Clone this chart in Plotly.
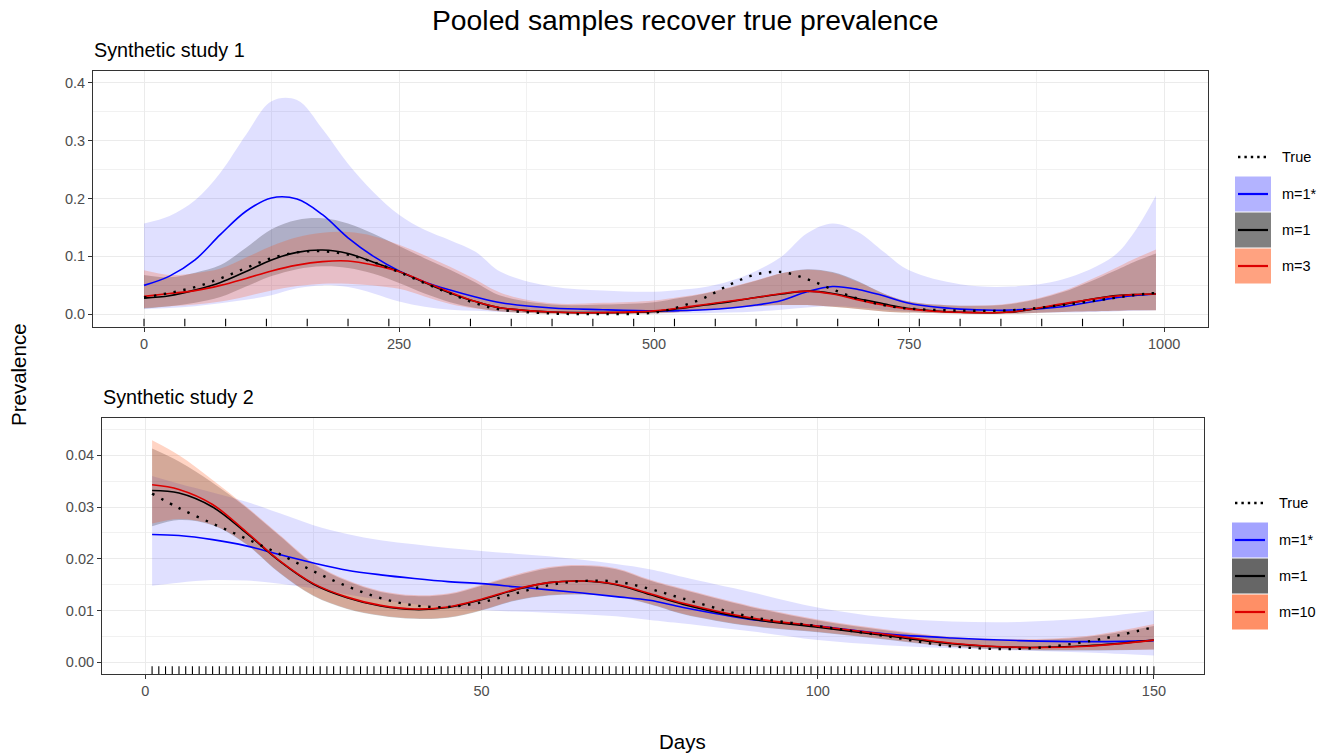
import plotly.graph_objects as go

# ---------------- data: Synthetic study 1 ----------------
days1 = [0, 25, 50, 75, 100, 125, 150, 175, 200, 225, 250, 275, 300, 325, 350, 400, 450, 500,
         525, 550, 575, 600, 625, 650, 675, 700, 725, 750, 800, 850, 900, 950, 970, 992]
true1 = [0.029, 0.037, 0.047, 0.062, 0.080, 0.097, 0.107, 0.109, 0.103, 0.090, 0.073, 0.054, 0.036, 0.019,
         0.008, 0.0015, 0.0005, 0.003, 0.013, 0.029, 0.052, 0.069, 0.073, 0.061, 0.043, 0.027, 0.016, 0.010,
         0.0065, 0.007, 0.016, 0.028, 0.033, 0.037]
blue1 = [0.050, 0.066, 0.094, 0.138, 0.178, 0.201, 0.199, 0.172, 0.132, 0.100, 0.075, 0.056, 0.042, 0.030,
         0.020, 0.011, 0.008, 0.006, 0.0065, 0.008, 0.011, 0.016, 0.024, 0.039, 0.048, 0.043, 0.032, 0.019,
         0.009, 0.0075, 0.013, 0.028, 0.032, 0.035]
blue1_lo = [0.009, 0.011, 0.014, 0.019, 0.025, 0.033, 0.045, 0.050, 0.047, 0.036, 0.022, 0.013, 0.008, 0.006,
            0.004, 0.002, 0.0015, 0.0015, 0.0018, 0.002, 0.003, 0.005, 0.008, 0.012, 0.014, 0.012, 0.008, 0.005,
            0.002, 0.002, 0.003, 0.005, 0.006, 0.007]
blue1_hi = [0.157, 0.170, 0.197, 0.245, 0.310, 0.368, 0.370, 0.320, 0.260, 0.211, 0.172, 0.146, 0.128, 0.108,
            0.073, 0.048, 0.041, 0.039, 0.042, 0.047, 0.058, 0.075, 0.100, 0.140, 0.157, 0.142, 0.108, 0.076,
            0.052, 0.048, 0.060, 0.100, 0.140, 0.205]
black1 = [0.028, 0.032, 0.042, 0.055, 0.074, 0.094, 0.107, 0.111, 0.105, 0.090, 0.074, 0.055, 0.037, 0.022,
          0.011, 0.004, 0.003, 0.005, 0.010, 0.016, 0.022, 0.029, 0.035, 0.040, 0.036, 0.027, 0.018, 0.010,
          0.0035, 0.004, 0.017, 0.032, 0.034, 0.035]
grey1_lo = [0.010, 0.014, 0.020, 0.030, 0.048, 0.066, 0.078, 0.083, 0.080, 0.070, 0.054, 0.036, 0.021, 0.011,
            0.005, 0.001, 0.0005, 0.002, 0.004, 0.008, 0.011, 0.014, 0.016, 0.016, 0.013, 0.009, 0.005, 0.003,
            0.001, 0.001, 0.004, 0.006, 0.007, 0.007]
grey1_hi = [0.068, 0.064, 0.072, 0.085, 0.115, 0.147, 0.163, 0.166, 0.157, 0.139, 0.118, 0.097, 0.077, 0.055,
            0.032, 0.017, 0.017, 0.021, 0.028, 0.036, 0.046, 0.058, 0.071, 0.078, 0.073, 0.057, 0.036, 0.022,
            0.015, 0.018, 0.038, 0.074, 0.090, 0.105]
red1 = [0.031, 0.036, 0.041, 0.050, 0.062, 0.075, 0.085, 0.091, 0.092, 0.085, 0.074, 0.056, 0.038, 0.022,
        0.011, 0.004, 0.003, 0.006, 0.011, 0.017, 0.023, 0.029, 0.036, 0.040, 0.035, 0.025, 0.016, 0.009,
        0.0035, 0.004, 0.018, 0.031, 0.034, 0.035]
red1_lo = [0.011, 0.014, 0.017, 0.022, 0.031, 0.041, 0.049, 0.053, 0.053, 0.050, 0.044, 0.031, 0.018, 0.010,
           0.005, 0.001, 0.0005, 0.002, 0.004, 0.008, 0.011, 0.014, 0.016, 0.016, 0.013, 0.009, 0.005, 0.003,
           0.001, 0.001, 0.004, 0.006, 0.007, 0.007]
red1_hi = [0.076, 0.068, 0.071, 0.079, 0.098, 0.118, 0.133, 0.141, 0.142, 0.135, 0.120, 0.102, 0.082, 0.060,
           0.037, 0.019, 0.020, 0.024, 0.030, 0.037, 0.047, 0.059, 0.071, 0.077, 0.072, 0.056, 0.036, 0.022,
           0.015, 0.019, 0.040, 0.078, 0.095, 0.112]
rug1 = list(range(0, 961, 40))

# ---------------- data: Synthetic study 2 ----------------
days2 = [1, 5, 10, 15, 20, 25, 30, 35, 40, 45, 50, 55, 60, 65, 70, 75, 80, 90, 100, 110, 120, 130, 140, 150]
true2 = [0.0326, 0.0298, 0.0268, 0.0239, 0.0209, 0.0176, 0.0147, 0.0124, 0.0110, 0.0107, 0.0116, 0.0133,
         0.0149, 0.0157, 0.0156, 0.0142, 0.0123, 0.0088, 0.0070, 0.0051, 0.0031, 0.0026, 0.0040, 0.0068]
blue2 = [0.0247, 0.0245, 0.0237, 0.0225, 0.0208, 0.0192, 0.0178, 0.0169, 0.0162, 0.0156, 0.0152, 0.0146,
         0.0140, 0.0134, 0.0127, 0.0120, 0.0106, 0.0083, 0.0070, 0.0055, 0.0047, 0.0042, 0.0040, 0.0042]
blue2_lo = [0.0148, 0.0154, 0.0159, 0.0158, 0.0152, 0.0143, 0.0131, 0.0121, 0.0112, 0.0105, 0.0101, 0.0098,
            0.0096, 0.0093, 0.0089, 0.0082, 0.0075, 0.0060, 0.0043, 0.0033, 0.0027, 0.0023, 0.0019, 0.0013]
blue2_hi = [0.0360, 0.0345, 0.0328, 0.0310, 0.0288, 0.0265, 0.0248, 0.0236, 0.0228, 0.0221, 0.0215, 0.0210,
            0.0205, 0.0198, 0.0190, 0.0180, 0.0165, 0.0136, 0.0106, 0.0087, 0.0079, 0.0078, 0.0085, 0.0100]
black2 = [0.0332, 0.0327, 0.0300, 0.0250, 0.0195, 0.0151, 0.0125, 0.0109, 0.0102, 0.0106, 0.0121, 0.0140,
          0.0154, 0.0157, 0.0150, 0.0131, 0.0112, 0.0084, 0.0068, 0.0052, 0.0036, 0.0029, 0.0032, 0.0043]
grey2_lo = [0.0263, 0.0275, 0.0265, 0.0228, 0.0172, 0.0128, 0.0103, 0.0090, 0.0084, 0.0086, 0.0100, 0.0119,
            0.0129, 0.0131, 0.0127, 0.0112, 0.0093, 0.0070, 0.0058, 0.0044, 0.0030, 0.0024, 0.0023, 0.0025]
grey2_hi = [0.0413, 0.0388, 0.0347, 0.0299, 0.0244, 0.0190, 0.0157, 0.0136, 0.0128, 0.0131, 0.0148, 0.0167,
            0.0182, 0.0186, 0.0180, 0.0158, 0.0140, 0.0107, 0.0081, 0.0062, 0.0047, 0.0043, 0.0049, 0.0070]
red2 = [0.0343, 0.0334, 0.0305, 0.0252, 0.0196, 0.0152, 0.0126, 0.0110, 0.0103, 0.0107, 0.0122, 0.0141,
        0.0154, 0.0157, 0.0151, 0.0133, 0.0114, 0.0086, 0.0070, 0.0054, 0.0037, 0.0029, 0.0031, 0.0043]
red2_lo = [0.0268, 0.0277, 0.0266, 0.0229, 0.0173, 0.0129, 0.0104, 0.0091, 0.0085, 0.0087, 0.0101, 0.0120,
           0.0130, 0.0132, 0.0128, 0.0113, 0.0094, 0.0071, 0.0059, 0.0045, 0.0031, 0.0025, 0.0024, 0.0025]
red2_hi = [0.0429, 0.0400, 0.0352, 0.0301, 0.0246, 0.0192, 0.0159, 0.0138, 0.0130, 0.0133, 0.0150, 0.0169,
           0.0184, 0.0188, 0.0182, 0.0160, 0.0142, 0.0109, 0.0083, 0.0064, 0.0049, 0.0045, 0.0051, 0.0074]
rug2 = list(range(1, 151))

legend1_labels = ["True", "m=1*", "m=1", "m=3"]
legend2_labels = ["True", "m=1*", "m=1", "m=10"]

# ---------------- styling ----------------
W, H = 1326, 754
FONT = "Liberation Sans, Arial, sans-serif"
BLUE_FILL = "rgba(0,0,255,0.12)"
GREY_FILL = "rgba(0,0,0,0.22)"
RED_FILL = "rgba(255,69,0,0.22)"
BLUE_FILL2 = "rgba(0,0,255,0.12)"
GREY_FILL2 = "rgba(0,0,0,0.22)"
RED_FILL2 = "rgba(255,69,0,0.23)"
Y1_RANGE = [-0.021, 0.421]
Y2_RANGE = [-0.00225, 0.0472]


def px(x):
    return x / W


def py(y):
    return 1 - y / H


fig = go.Figure()


def add_band(x, lo, hi, color, xa, ya):
    fig.add_trace(go.Scatter(x=x, y=lo, mode="lines", line=dict(width=0, shape="spline"),
                             xaxis=xa, yaxis=ya, showlegend=False, hoverinfo="skip"))
    fig.add_trace(go.Scatter(x=x, y=hi, mode="lines", line=dict(width=0, shape="spline"),
                             fill="tonexty", fillcolor=color, xaxis=xa, yaxis=ya,
                             showlegend=False, hoverinfo="skip"))


def add_line(x, y, color, xa, ya, dash=None, width=1.6):
    fig.add_trace(go.Scatter(x=x, y=y, mode="lines",
                             line=dict(color=color, width=width, shape="spline", dash=dash),
                             xaxis=xa, yaxis=ya, showlegend=False))


def add_rug(days, yrange, xa, ya):
    y0 = yrange[0]
    y1 = yrange[0] + 0.03 * (yrange[1] - yrange[0])
    xs, ys = [], []
    for d in days:
        xs += [d, d, None]
        ys += [y0, y1, None]
    fig.add_trace(go.Scatter(x=xs, y=ys, mode="lines", line=dict(color="black", width=1.1),
                             xaxis=xa, yaxis=ya, showlegend=False, hoverinfo="skip"))


# panel 1
add_band(days1, blue1_lo, blue1_hi, BLUE_FILL, "x", "y")
add_band(days1, grey1_lo, grey1_hi, GREY_FILL, "x", "y")
add_band(days1, red1_lo, red1_hi, RED_FILL, "x", "y")
add_line(days1, blue1, "#0000ff", "x", "y")
add_line(days1, black1, "#000000", "x", "y")
add_line(days1, red1, "#dd0000", "x", "y")
add_line(days1, true1, "#000000", "x", "y", dash="2.4px,7.6px", width=2.4)
add_rug(rug1, Y1_RANGE, "x", "y")

# panel 2
add_band(days2, blue2_lo, blue2_hi, BLUE_FILL2, "x2", "y2")
add_band(days2, grey2_lo, grey2_hi, GREY_FILL2, "x2", "y2")
add_band(days2, red2_lo, red2_hi, RED_FILL2, "x2", "y2")
add_line(days2, blue2, "#0000ff", "x2", "y2")
add_line(days2, black2, "#000000", "x2", "y2")
add_line(days2, red2, "#dd0000", "x2", "y2")
add_line(days2, true2, "#000000", "x2", "y2", dash="2.4px,7.6px", width=2.4)
add_rug(rug2, Y2_RANGE, "x2", "y2")

axis_common = dict(showline=True, mirror=True, linecolor="#333333", linewidth=1.1,
                   showgrid=True, gridcolor="#ebebeb", gridwidth=1.1, zeroline=False,
                   ticks="outside", ticklen=4, tickcolor="#333333", tickwidth=1.1,
                   tickfont=dict(family=FONT, size=14.5, color="#4d4d4d"))

fig.update_layout(
    width=W, height=H, margin=dict(l=0, r=0, t=0, b=0),
    paper_bgcolor="white", plot_bgcolor="white", showlegend=False,
    xaxis=dict(domain=[px(93), px(1208)], range=[-50, 1043], anchor="y",
               tickvals=[0, 250, 500, 750, 1000], ticktext=["0", "250", "500", "750", "1000"],
               minor=dict(dtick=125, tick0=0, showgrid=True, gridcolor="#f1f1f1", gridwidth=0.6, ticks=""),
               **axis_common),
    yaxis=dict(domain=[py(326.5), py(70.5)], range=Y1_RANGE, anchor="x",
               tickvals=[0, 0.1, 0.2, 0.3, 0.4], ticktext=["0.0", "0.1", "0.2", "0.3", "0.4"],
               minor=dict(dtick=0.05, tick0=0, showgrid=True, gridcolor="#f1f1f1", gridwidth=0.6, ticks=""),
               **axis_common),
    xaxis2=dict(domain=[px(102), px(1204)], range=[-6.45, 157.45], anchor="y2",
                tickvals=[0, 50, 100, 150], ticktext=["0", "50", "100", "150"],
                minor=dict(dtick=25, tick0=0, showgrid=True, gridcolor="#f1f1f1", gridwidth=0.6, ticks=""),
                **axis_common),
    yaxis2=dict(domain=[py(674), py(418)], range=Y2_RANGE, anchor="x2",
                tickvals=[0, 0.01, 0.02, 0.03, 0.04], ticktext=["0.00", "0.01", "0.02", "0.03", "0.04"],
                minor=dict(dtick=0.005, tick0=0, showgrid=True, gridcolor="#f1f1f1", gridwidth=0.6, ticks=""),
                **axis_common),
)


def note(text, x, y, size, xanchor="left", angle=0):
    return dict(text=text, x=px(x), y=py(y), xref="paper", yref="paper", xanchor=xanchor,
                yanchor="middle", showarrow=False, textangle=angle,
                font=dict(family=FONT, size=size, color="black"))


annotations = [
    note("Pooled samples recover true prevalence", 684.5, 20, 28.3, "center"),
    note("Synthetic study 1", 92, 50, 19.8),
    note("Synthetic study 2", 101, 397, 19.8),
    note("Prevalence", 18, 375, 20.5, "center", -90),
    note("Days", 683, 741, 20.5, "center"),
]
shapes = []


def legend(x0, y_true, y_boxes, labels, box_colors, text_x):
    shapes.append(dict(type="line", xref="paper", yref="paper", x0=px(x0 + 3), x1=px(x0 + 33),
                       y0=py(y_true), y1=py(y_true),
                       line=dict(color="black", width=2.4, dash="2.4px,4px")))
    annotations.append(note(labels[0], text_x, y_true, 14.5))
    line_cols = ["#0000ff", "#000000", "#dd0000"]
    for i in range(3):
        top, bot = y_boxes[i], y_boxes[i + 1]
        shapes.append(dict(type="rect", xref="paper", yref="paper", x0=px(x0), x1=px(x0 + 36),
                           y0=py(bot - 0.5), y1=py(top + 0.5), fillcolor=box_colors[i], line=dict(width=0)))
        ym = (top + bot) / 2
        shapes.append(dict(type="line", xref="paper", yref="paper", x0=px(x0 + 3), x1=px(x0 + 33),
                           y0=py(ym), y1=py(ym), line=dict(color=line_cols[i], width=2.2)))
        annotations.append(note(labels[i + 1], text_x, ym, 14.5))


legend(1235, 157, [176, 212, 248, 284], legend1_labels, ["#b3b3ff", "#808080", "#ffa280"], 1280)
legend(1232, 503, [522, 558, 594, 630], legend2_labels, ["#a3a3ff", "#666666", "#ff8f66"], 1277)

fig.update_layout(annotations=annotations, shapes=shapes)
fig.write_html("out.html", config={"displayModeBar": False},
               post_script="document.body.style.margin='0px';document.body.style.overflow='hidden';")
